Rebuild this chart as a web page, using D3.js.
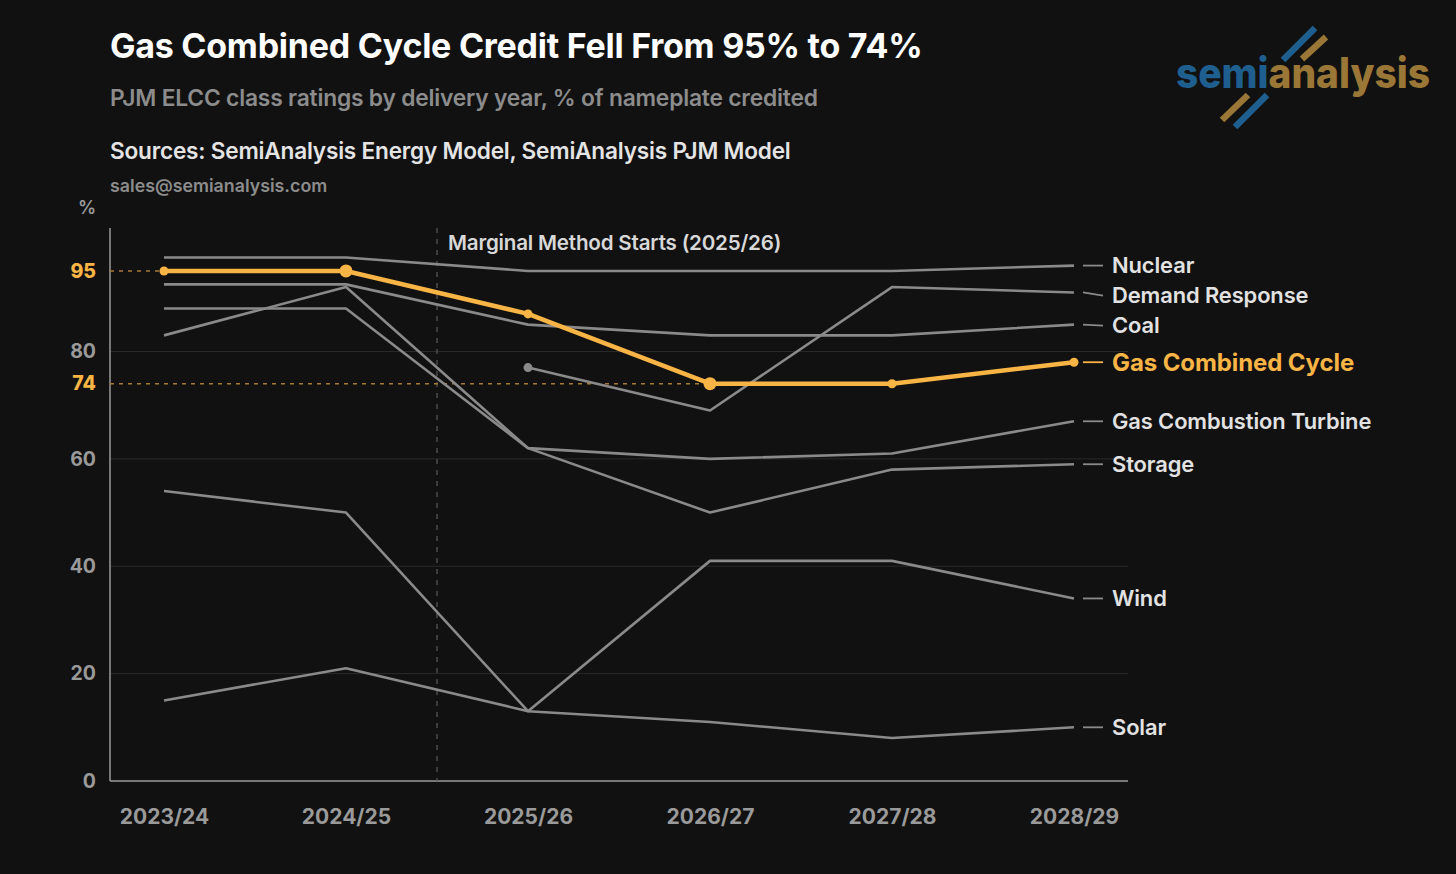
<!DOCTYPE html>
<html><head><meta charset="utf-8">
<script src="https://cdn.jsdelivr.net/npm/d3@7"></script>
<style>
html,body{margin:0;padding:0;background:#111111;}
svg{display:block;}
text{font-family:Inter, "Noto Sans", sans-serif;}
</style></head>
<body>
<svg id="c" width="1456" height="874"></svg>
<script>
// ---- data ----
const years = ["2023/24","2024/25","2025/26","2026/27","2027/28","2028/29"];
const nuclear        = [97.5, 97.5, 95, 95, 95, 96];
const demandResponse = [null, null, 77, 69, 92, 91];
const coal           = [92.5, 92.5, 85, 83, 83, 85];
const gasCC          = [95, 95, 87, 74, 74, 78];
const gasCT          = [83, 92, 62, 60, 61, 67];
const storage        = [88, 88, 62, 50, 58, 59];
const wind           = [54, 50, 13, 41, 41, 34];
const solar          = [15, 21, 13, 11, 8, 10];
const seriesNames = ["Nuclear","Demand Response","Coal","Gas Combined Cycle","Gas Combustion Turbine","Storage","Wind","Solar"];
const seriesValues = [nuclear, demandResponse, coal, gasCC, gasCT, storage, wind, solar];
const yTicks = [0, 20, 40, 60, 80];
const highlightTicks = [95, 74];
const highlightYears = ["2024/25", "2026/27"];
const methodStart = ["2024/25", "2025/26"];

const ORANGE = "#f8b444", GREY = "#8a8a8a";
const svg = d3.select("#c");

// header
svg.append("text").attr("x",110).attr("y",58).attr("fill","#ffffff").attr("font-size",34).attr("font-weight",700)
  .attr("letter-spacing",-0.25).text("Gas Combined Cycle Credit Fell From 95% to 74%");
svg.append("text").attr("x",110).attr("y",106).attr("fill","#8c8c8c").attr("font-size",22.8).attr("font-weight",600)
  .attr("letter-spacing",-0.2).text("PJM ELCC class ratings by delivery year, % of nameplate credited");
svg.append("text").attr("x",110).attr("y",159).attr("fill","#e4e4e4").attr("font-size",22.6).attr("font-weight",600)
  .attr("letter-spacing",-0.2).text("Sources: SemiAnalysis Energy Model, SemiAnalysis PJM Model");
svg.append("text").attr("x",110).attr("y",192).attr("fill","#8c8c8c").attr("font-size",17.8).attr("font-weight",600)
  .text("sales@semianalysis.com");

// logo
const logo = svg.append("g");
[[1315,28,1283,60,"#1f5f8f"],[1326,37,1302,59,"#9a7637"],[1248,95,1222,120,"#9a7637"],[1267,95,1235,127,"#1f5f8f"]]
  .forEach(b=>logo.append("line").attr("x1",b[0]).attr("y1",b[1]).attr("x2",b[2]).attr("y2",b[3])
    .attr("stroke",b[4]).attr("stroke-width",6.5));
const lt = logo.append("text").attr("x",1176).attr("y",88).attr("font-size",42).attr("font-weight",800)
  .attr("font-family","Lato, sans-serif").attr("textLength",254).attr("lengthAdjust","spacingAndGlyphs");
lt.append("tspan").attr("fill","#1f5f8f").text("semi");
lt.append("tspan").attr("fill","#9a7637").text("analysis");

// scales
const x = d3.scalePoint().domain(years).range([164,1074]);
const y = d3.scaleLinear().domain([0,103]).range([781,228]);
const left = 110, right = 1128;

// grid
svg.append("g").selectAll("line").data(yTicks.filter(d=>d>0)).join("line")
  .attr("x1",left).attr("x2",right).attr("y1",d=>y(d)).attr("y2",d=>y(d))
  .attr("stroke","#2a2a2a").attr("stroke-width",1);

// y axis
const ya = svg.append("g").attr("transform",`translate(${left},0)`)
  .call(d3.axisLeft(y).tickValues(yTicks).tickSize(0).tickPadding(14));
ya.select(".domain").remove();
ya.selectAll("text").attr("fill","#9a9a9a").attr("font-size",19.5).attr("font-weight",700).attr("font-family","Inter, sans-serif");
const yb = svg.append("g").attr("transform",`translate(${left},0)`)
  .call(d3.axisLeft(y).tickValues(highlightTicks).tickSize(0).tickPadding(14));
yb.select(".domain").remove();
yb.selectAll("text").attr("fill",ORANGE).attr("font-size",19.5).attr("font-weight",800).attr("font-family","Inter, sans-serif");
svg.append("text").attr("x",96).attr("y",214).attr("text-anchor","end").attr("fill","#9a9a9a")
  .attr("font-size",18).attr("font-weight",600).text("%");

// axis lines
svg.append("line").attr("x1",left).attr("x2",left).attr("y1",228).attr("y2",y(0)).attr("stroke","#9a9a9a").attr("stroke-width",1.5);
svg.append("line").attr("x1",left).attr("x2",right).attr("y1",y(0)).attr("y2",y(0)).attr("stroke","#9a9a9a").attr("stroke-width",1.5);

// x axis
const xa = svg.append("g").attr("transform",`translate(0,${y(0)})`)
  .call(d3.axisBottom(x).tickSize(0).tickPadding(28));
xa.select(".domain").remove();
xa.selectAll("text").attr("fill","#9a9a9a").attr("font-size",21).attr("font-weight",700).attr("font-family","Inter, sans-serif");

// method start line
const mx = (x(methodStart[0]) + x(methodStart[1]))/2;
svg.append("line").attr("x1",mx).attr("x2",mx).attr("y1",228).attr("y2",y(0))
  .attr("stroke","#555").attr("stroke-width",1.3).attr("stroke-dasharray","5,6");
svg.append("text").attr("x",mx+11).attr("y",250).attr("fill","#d8d8d8").attr("font-size",20.6).attr("font-weight",600)
  .attr("letter-spacing",-0.2).text("Marginal Method Starts (2025/26)");

// orange reference dashes
svg.append("line").attr("x1",left).attr("x2",x(years[0])).attr("y1",y(95)).attr("y2",y(95))
  .attr("stroke","#a57a34").attr("stroke-width",1.5).attr("stroke-dasharray","4,5");
svg.append("line").attr("x1",left).attr("x2",x("2026/27")).attr("y1",y(74)).attr("y2",y(74))
  .attr("stroke","#a57a34").attr("stroke-width",1.5).attr("stroke-dasharray","4,5");

// lines
const line = d3.line().defined(d=>d.v!=null).x(d=>x(d.year)).y(d=>y(d.v));
const series = seriesNames.map((n,i)=>({name:n, pts:years.map((yr,j)=>({year:yr, v:seriesValues[i][j]}))}));
const gcc = "Gas Combined Cycle";
svg.append("g").selectAll("path").data(series.filter(s=>s.name!==gcc)).join("path")
  .attr("d",s=>line(s.pts)).attr("fill","none").attr("stroke",GREY).attr("stroke-width",2.6).attr("stroke-linejoin","round");
// DR start dot
const dr = series.find(s=>s.name==="Demand Response").pts.find(p=>p.v!=null);
svg.append("circle").attr("cx",x(dr.year)).attr("cy",y(dr.v)).attr("r",4.5).attr("fill",GREY);

const gs = series.find(s=>s.name===gcc);
svg.append("path").attr("d",line(gs.pts)).attr("fill","none").attr("stroke",ORANGE).attr("stroke-width",4.5).attr("stroke-linejoin","round");
svg.append("g").selectAll("circle").data(gs.pts).join("circle")
  .attr("cx",d=>x(d.year)).attr("cy",d=>y(d.v)).attr("r",d=>highlightYears.includes(d.year)?6.5:4.5).attr("fill",ORANGE);

// end labels with collision avoidance
const ends = series.map(s=>{const p=s.pts[s.pts.length-1]; return {name:s.name, y0:y(p.v), ly:y(p.v)};}).sort((a,b)=>a.y0-b.y0);
for(let i=1;i<ends.length;i++){ if(ends[i].ly < ends[i-1].ly+30) ends[i].ly = ends[i-1].ly+30; }
const lg = svg.append("g");
ends.forEach(e=>{
  const isG = e.name===gcc;
  lg.append("line").attr("x1",1083).attr("x2",1103).attr("y1",e.y0).attr("y2",e.ly)
    .attr("stroke",isG?ORANGE:GREY).attr("stroke-width",1.8);
  lg.append("text").attr("x",1112).attr("y",e.ly).attr("dy","0.36em")
    .attr("fill",isG?ORANGE:"#e2e2e2").attr("font-size",isG?24:21.9).attr("font-weight",isG?700:600)
    .attr("letter-spacing",-0.1).text(e.name);
});
</script>
</body></html>
